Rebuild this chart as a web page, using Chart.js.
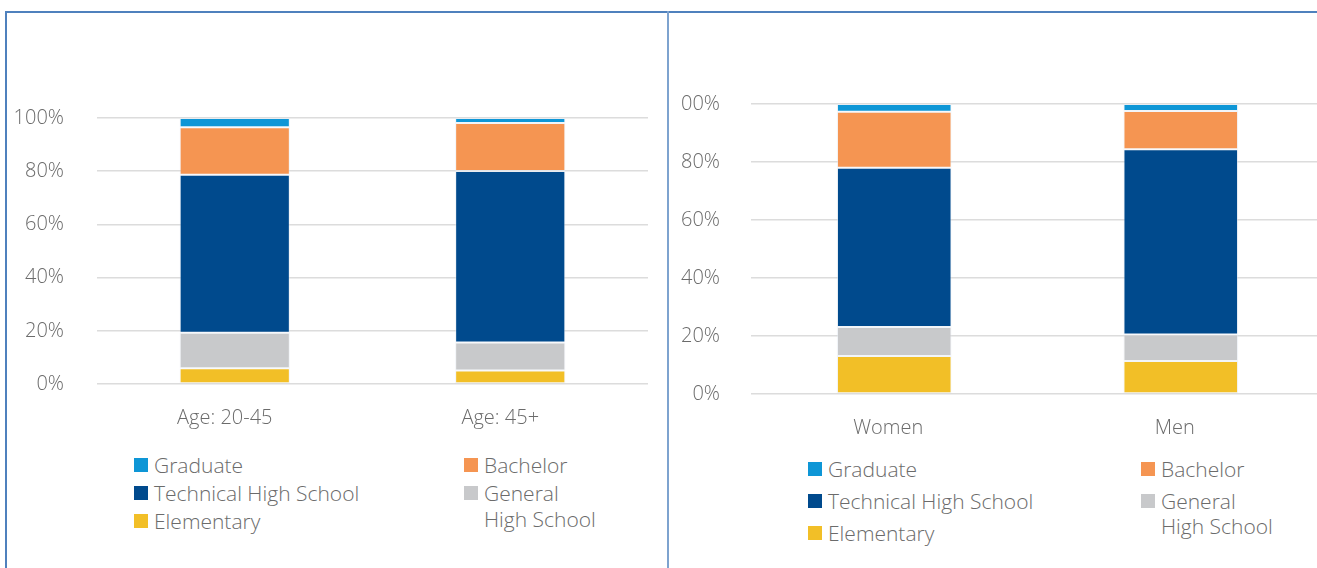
<!DOCTYPE html>
<html>
<head>
<meta charset="utf-8">
<script src="https://cdn.jsdelivr.net/npm/chart.js@4"></script>
<style>
body{margin:0;background:#fff;font-family:"Open Sans",sans-serif;}
#page{position:relative;width:1317px;height:568px;overflow:hidden;}
.frame-top{position:absolute;left:5px;top:11px;width:1312px;height:2px;background:#4f81bd;}
.frame-left{position:absolute;left:5px;top:11px;width:2px;height:557px;background:#4f81bd;}
.frame-mid{position:absolute;left:667px;top:11px;width:2px;height:557px;background:#7ea3cf;}
canvas{position:absolute;}
#ageChart{left:0;top:73px;}
#genderChart{left:668px;top:61px;}
.legend{position:absolute;color:#6b6b6b;font-weight:300;}
.legend .item{position:absolute;}
.legend .box{position:absolute;left:0;}
.legend .txt{position:absolute;white-space:pre;}
</style>
</head>
<body>
<div id="page">
<div class="frame-top"></div>
<div class="frame-left"></div>
<div class="frame-mid"></div>
<canvas id="ageChart" width="668" height="367"></canvas>
<canvas id="genderChart" width="660" height="389"></canvas>
<div id="ageLegend" class="legend"></div>
<div id="genderLegend" class="legend"></div>
</div>
<script>

const ageLabels = ['Age: 20-45','Age: 45+'];
const genderLabels = ['Women','Men'];

const ageTicks = ['0%','20%','40%','60%','80%','100%'];
const genderTicks = ['0%','20%','40%','60%','80%','00%'];

const seriesNames = ['Elementary','General\nHigh School','Technical High School','Bachelor','Graduate'];
const seriesColors = ['#f2bf27','#c8c9cb','#004a8d','#f59552','#0e96d6'];

// values in percent, bottom to top
const elementaryAge = [5.9, 5.1];
const generalAge = [13.4, 10.5];
const technicalAge = [59.4, 64.5];
const bachelorAge = [17.8, 18.0];
const graduateAge = [3.5, 1.9];

const elementaryGender = [13.1, 11.4];
const generalGender = [10.0, 9.1];
const technicalGender = [54.9, 63.9];
const bachelorGender = [19.3, 13.2];
const graduateGender = [2.7, 2.4];

// legend reading order (index into seriesNames)
const legendOrder = [4, 3, 2, 1, 0];

function makeSets(arrs){
  return arrs.map((d,i)=>({
    label: seriesNames[i],
    data: d,
    backgroundColor: seriesColors[i],
    borderColor: 'rgba(230,236,244,0.5)',
    borderWidth: 1,
    borderSkipped: false,
    barPercentage: 0.4,
    categoryPercentage: 1
  }));
}

function makeChart(id, labels, sets, ticks, o){
  const font = {family:'"Open Sans"',size:o.fs,weight:300};
  return new Chart(document.getElementById(id),{
    type:'bar',
    data:{labels:labels, datasets:makeSets(sets)},
    options:{
      responsive:false,
      animation:false,
      layout:{padding:{top:0,right:o.right,left:0,bottom:0}},
      plugins:{legend:{display:false},tooltip:{enabled:false}},
      scales:{
        x:{
          stacked:true,
          grid:{display:false,drawTicks:false},
          border:{display:false},
          ticks:{color:'#6b6b6b',font:font,padding:o.xpad,labelOffset:o.shift,maxRotation:0},
          afterFit:(a)=>{a.height=o.xh;}
        },
        y:{
          stacked:true,
          min:0,max:100,
          grid:{color:'#dcdcdc',lineWidth:1.5,drawTicks:false},
          border:{display:false},
          ticks:{stepSize:20,color:'#6b6b6b',font:font,padding:o.ypad,
            callback:(v)=>ticks[v/20]},
          afterFit:(a)=>{a.width=o.yw;}
        }
      }
    }
  });
}

makeChart('ageChart', ageLabels,
  [elementaryAge,generalAge,technicalAge,bachelorAge,graduateAge], ageTicks,
  {right:20,fs:20,xpad:22,xh:56,yw:97,ypad:33,shift:-10});

makeChart('genderChart', genderLabels,
  [elementaryGender,generalGender,technicalGender,bachelorGender,graduateGender], genderTicks,
  {right:4,fs:20,xpad:22,xh:56,yw:83,ypad:31,shift:-6});

function buildLegend(id, p){
  const el = document.getElementById(id);
  el.style.left = p.left+'px';
  el.style.top = p.top+'px';
  el.style.fontSize = p.fs+'px';
  legendOrder.forEach((idx,k)=>{
    const col = k%2, row = Math.floor(k/2);
    const item = document.createElement('div');
    item.className='item';
    item.style.left = (col*p.colGap)+'px';
    item.style.top = (row*p.rowGap)+'px';
    const box = document.createElement('div');
    box.className='box';
    box.style.width = p.box+'px';
    box.style.height = p.box+'px';
    box.style.top = (-p.box/2)+'px';
    box.style.background = seriesColors[idx];
    const t = document.createElement('div');
    t.className='txt';
    t.style.left = p.tx+'px';
    t.style.top = (-p.lh/2)+'px';
    t.style.lineHeight = p.lh+'px';
    t.textContent = seriesNames[idx];
    item.appendChild(box); item.appendChild(t);
    el.appendChild(item);
  });
}

buildLegend('ageLegend',{left:134,top:465,fs:21,colGap:330,rowGap:28,box:14,tx:20,lh:26});
buildLegend('genderLegend',{left:808,top:469,fs:21,colGap:333,rowGap:32,box:14,tx:20,lh:25});
</script>
</body>
</html>
